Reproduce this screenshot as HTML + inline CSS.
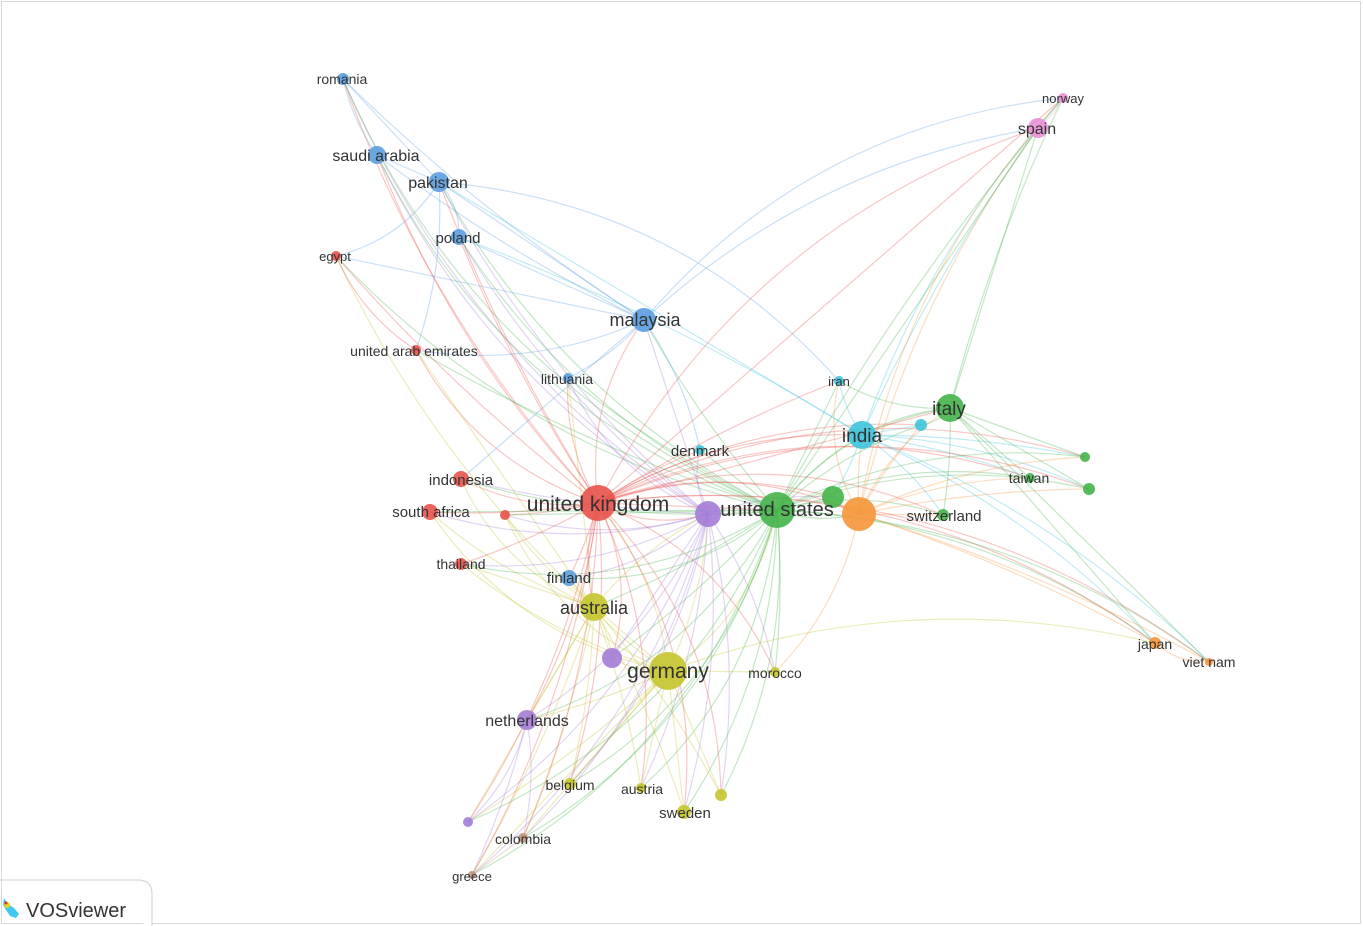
<!DOCTYPE html>
<html><head><meta charset="utf-8">
<style>
html,body{margin:0;padding:0;background:#fff;width:1363px;height:926px;overflow:hidden}
svg{position:absolute;left:0;top:0}
text{font-family:"Liberation Sans","DejaVu Sans",sans-serif;fill:#333}
</style></head><body>
<svg width="1363" height="926" viewBox="0 0 1363 926">
<rect x="1.5" y="1.5" width="1359" height="922" fill="#fff" stroke="#d8d8d8"/>
<g id="edges" fill="none" stroke-width="1.2"></g>
<g id="nodes"></g>
<g id="labels" text-anchor="middle">
<text x="342" y="84" font-size="14">romania</text>
<text x="376" y="161" font-size="16">saudi arabia</text>
<text x="438" y="188" font-size="16">pakistan</text>
<text x="458" y="243" font-size="15">poland</text>
<text x="335" y="261" font-size="13">egypt</text>
<text x="645" y="326" font-size="18">malaysia</text>
<text x="414" y="356" font-size="14">united arab emirates</text>
<text x="567" y="384" font-size="14">lithuania</text>
<text x="839" y="386" font-size="13">iran</text>
<text x="949" y="415" font-size="19">italy</text>
<text x="862" y="442" font-size="19">india</text>
<text x="700" y="456" font-size="15">denmark</text>
<text x="461" y="485" font-size="15">indonesia</text>
<text x="598" y="511" font-size="21">united kingdom</text>
<text x="431" y="517" font-size="15">south africa</text>
<text x="777" y="516" font-size="20">united states</text>
<text x="944" y="521" font-size="15">switzerland</text>
<text x="1029" y="483" font-size="14">taiwan</text>
<text x="461" y="569" font-size="14">thailand</text>
<text x="569" y="583" font-size="15">finland</text>
<text x="594" y="614" font-size="18">australia</text>
<text x="668" y="678" font-size="21">germany</text>
<text x="775" y="678" font-size="14">morocco</text>
<text x="527" y="726" font-size="16">netherlands</text>
<text x="1155" y="649" font-size="14">japan</text>
<text x="1209" y="667" font-size="14">viet nam</text>
<text x="570" y="790" font-size="14">belgium</text>
<text x="642" y="794" font-size="14">austria</text>
<text x="685" y="818" font-size="15">sweden</text>
<text x="523" y="844" font-size="14">colombia</text>
<text x="472" y="881" font-size="13">greece</text>
<text x="1037" y="134" font-size="16">spain</text>
<text x="1063" y="103" font-size="13">norway</text>
</g>
<path d="M0 880 H138 Q152 880 152 894 V926" fill="#fff" stroke="#d0d0d0"/>
<g>
<path d="M4 898 l4 6 l6 4 l5 6 l-3 4 l-6 -2 l-4 -6 l-3 -5z" fill="#40c8f0"/>
<circle cx="7" cy="905" r="3" fill="#e8d020"/>
<circle cx="6" cy="903" r="1.5" fill="#e03020"/>
</g>
<text x="26" y="917" font-size="20" fill="#444">VOSviewer</text>
</svg>
<script>
var C={blue:"#5b9ee0",red:"#e8524a",green:"#45b44a",cyan:"#3cc4dc",orange:"#f5963a",purple:"#a47cd8",yellow:"#c5c52e",pink:"#e98fd8",brown:"#c4927c"};
var N={
romania:[343,79,6,"blue"],saudi:[377,155,9,"blue"],pakistan:[439,182,10,"blue"],poland:[459,237,8,"blue"],
egypt:[336,256,5,"red"],malaysia:[644,320,12,"blue"],uae:[416,350,5,"red"],lithuania:[568,378,5,"blue"],
iran:[839,381,5,"cyan"],italy:[950,408,14,"green"],india:[862,435,14,"cyan"],cy2:[921,425,6,"cyan"],
denmark:[700,450,5,"cyan"],indonesia:[461,479,8,"red"],uk:[598,503,18,"red"],r2:[505,515,5,"red"],
safrica:[430,512,8,"red"],pu1:[708,514,13,"purple"],us:[777,510,18,"green"],g2:[833,497,11,"green"],
orange:[859,514,17,"orange"],swiss:[943,515,6,"green"],taiwan:[1030,478,5,"green"],g3:[1085,457,5,"green"],
g4:[1089,489,6,"green"],thailand:[461,564,6,"red"],finland:[569,578,8,"blue"],australia:[594,607,14,"yellow"],
pu2:[612,658,10,"purple"],germany:[668,671,19,"yellow"],morocco:[775,672,5,"yellow"],netherlands:[527,720,10,"purple"],
japan:[1155,643,6,"orange"],vietnam:[1209,662,4,"orange"],belgium:[570,784,6,"yellow"],austria:[641,788,5,"yellow"],
y2:[721,795,6,"yellow"],sweden:[684,812,7,"yellow"],pu3:[468,822,5,"purple"],colombia:[523,838,5,"brown"],
greece:[472,875,4,"brown"],spain:[1038,128,10,"pink"],norway:[1063,98,5,"pink"]};
var hubs=["uk","us","orange","germany","australia","malaysia","pakistan","india","italy","pu1"];
var E=[],seen={};
function add(a,b){var k=a<b?a+b:b+a;if(a!==b&&!seen[k]){seen[k]=1;E.push([a,b]);}}
for(var k in N){var a=N[k];
 var hs=hubs.slice().sort(function(p,q){return Math.hypot(a[0]-N[p][0],a[1]-N[p][1])-Math.hypot(a[0]-N[q][0],a[1]-N[q][1]);});
 hs.slice(0,4).forEach(function(h){add(k,h);});add(k,"uk");add(k,"us");}
[["spain","uk"],["spain","italy"],["spain","norway"],["spain","orange"],["norway","italy"],["japan","orange"],["japan","germany"],["japan","vietnam"],["japan","us"],["japan","italy"],["greece","uk"],["greece","colombia"],["greece","netherlands"],["romania","saudi"],["romania","pakistan"],["egypt","uk"],["egypt","uae"],["iran","pakistan"],["iran","india"],["malaysia","saudi"],["malaysia","poland"],["pakistan","poland"],["pakistan","saudi"],["india","pakistan"],["india","poland"],["colombia","netherlands"],["pu3","netherlands"],["g3","italy"],["g4","italy"],["g4","us"]].forEach(function(e){add(e[0],e[1]);});
var g=document.getElementById("edges"),s="";
E.forEach(function(e,i){var a=N[e[0]],b=N[e[1]];var mx=(a[0]+b[0])/2,my=(a[1]+b[1])/2;var dx=b[0]-a[0],dy=b[1]-a[1];
var f=((i%5)-2)*0.05+0.1;var cx=mx-dy*f,cy=my+dx*f;var col=C[a[2]>=b[2]?a[3]:b[3]];
s+='<path d="M'+a[0]+' '+a[1]+' Q'+cx+' '+cy+' '+b[0]+' '+b[1]+'" stroke="'+col+'" stroke-opacity="0.32"/>';});
g.innerHTML=s;s="";
for(var k in N){var n=N[k];s+='<circle cx="'+n[0]+'" cy="'+n[1]+'" r="'+n[2]+'" fill="'+C[n[3]]+'" fill-opacity="0.9"/>';}
document.getElementById("nodes").innerHTML=s;
</script>
</body></html>
